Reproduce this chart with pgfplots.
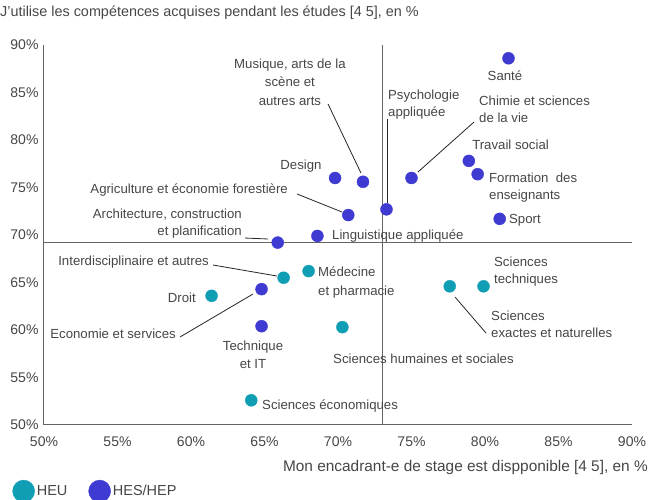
\documentclass[border=0pt]{standalone}
\usepackage{fontspec}
\setmainfont{Liberation Sans}
\usepackage{pgfplots}
\pgfplotsset{compat=1.18}
\definecolor{heu}{RGB}{16,158,180}
\definecolor{hes}{RGB}{62,58,210}
\definecolor{txt}{RGB}{70,70,70}
\definecolor{axc}{RGB}{100,100,100}
\begin{document}
\begin{tikzpicture}[
  lbl/.style={font=\fontsize{13.2}{17}\selectfont, text=txt, inner sep=0pt},
  leader/.style={draw=black!85, line width=0.8pt}]
\useasboundingbox (-44pt,-75pt) rectangle (604pt,425pt);
\begin{axis}[name=ax, at={(0pt,0pt)}, anchor=south west,
  scale only axis, width=588pt, height=380pt,
  xmin=50, xmax=90, ymin=50, ymax=90,
  xtick={50,55,...,90}, ytick={50,55,...,90},
  xticklabel={\pgfmathprintnumber[assume math mode=true]{\tick}\%},
  yticklabel={\pgfmathprintnumber[assume math mode=true]{\tick}\%},
  axis x line*=bottom, axis y line*=left,
  axis line style={-, draw=axc, line width=1pt},
  major tick length=0pt,
  tick label style={font=\fontsize{14}{16}\selectfont, text=txt},
  xticklabel style={yshift=-8pt},
  yticklabel style={xshift=-2pt},
  clip=false,
  legend style={at={(rel axis cs:-0.054,-0.174)}, anchor=west, draw=none, fill=none,
    legend columns=2, inner sep=0pt, font=\fontsize{14.5}{16}\selectfont, text=txt,
    /tikz/every even column/.append style={column sep=19pt}},
]
% reference lines
\addplot[draw=axc, line width=0.8pt, forget plot] coordinates {(73.0,50) (73.0,90)};
\addplot[draw=axc, line width=0.8pt, forget plot] coordinates {(50,69.2) (90,69.2)};
% HEU
\addplot[only marks, mark=*, mark size=6pt, color=heu, mark options={draw=heu, fill=heu},
  legend image code/.code={\fill[heu] (8pt,0pt) circle (11pt);}] coordinates {
  (66.3,65.5) (68.0,66.2) (61.4,63.6) (79.9,64.6) (77.6,64.6) (70.3,60.3) (64.1,52.6)
};
\addlegendentry{HEU}
% HES/HEP
\addplot[only marks, mark=*, mark size=6pt, color=hes, mark options={draw=hes, fill=hes},
  legend image code/.code={\fill[hes] (8pt,0pt) circle (11pt);}] coordinates {
  (81.6,88.6) (69.8,76.0) (71.7,75.6) (73.3,72.7) (75.0,76.0) (78.9,77.8) (79.5,76.4)
  (81.0,71.7) (70.7,72.1) (65.9,69.2) (68.6,69.9) (64.8,64.3) (64.8,60.4)
};
\addlegendentry{HES/HEP}
% labels
\node[lbl, align=center, font=\fontsize{13.2}{18.5}\selectfont] at (axis cs:66.73,86.1) {Musique, arts de la\\scène et\\autres arts};
\draw[leader] (axis cs:69.32,83.79) -- (axis cs:71.56,76.53);
\node[lbl, align=left, anchor=west] at (axis cs:73.40,83.75) {Psychologie\\appliquée};
\draw[leader] (axis cs:73.33,82.21) -- (axis cs:73.33,73.37);
\node[lbl, align=left, anchor=west] at (axis cs:79.59,83.2) {Chimie et sciences\\de la vie};
\draw[leader] (axis cs:79.25,81.89) -- (axis cs:75.44,76.63);
\node[lbl] at (axis cs:81.36,86.74) {Santé};
\node[lbl, anchor=west] at (axis cs:79.12,79.47) {Travail social};
\node[lbl, align=left, anchor=west] at (axis cs:80.27,74.95) {Formation\ \ des\\enseignants};
\node[lbl, anchor=west] at (axis cs:81.63,71.58) {Sport};
\node[lbl] at (axis cs:67.48,77.26) {Design};
\node[lbl, anchor=east] at (axis cs:66.60,74.74) {Agriculture et économie forestière};
\draw[leader] (axis cs:67.21,74.32) -- (axis cs:70.27,72.42);
\node[lbl, align=right, anchor=east] at (axis cs:63.47,71.16) {Architecture, construction\\et planification};
\draw[leader] (axis cs:63.67,69.68) -- (axis cs:65.24,69.58);
\node[lbl, anchor=west] at (axis cs:69.59,69.89) {Linguistique appliquée};
\node[lbl, anchor=east] at (axis cs:61.22,67.16) {Interdisciplinaire et autres};
\draw[leader] (axis cs:61.50,66.84) -- (axis cs:65.85,65.68);
\node[lbl, align=left, anchor=west, font=\fontsize{13.2}{18.5}\selectfont] at (axis cs:68.64,65.0) {Médecine\\et pharmacie};
\node[lbl, anchor=east] at (axis cs:60.34,63.37) {Droit};
\node[lbl, anchor=east] at (axis cs:58.98,59.58) {Economie et services};
\draw[leader] (axis cs:59.25,59.26) -- (axis cs:64.22,63.79);
\node[lbl, align=center, font=\fontsize{13.2}{18}\selectfont] at (axis cs:64.22,57.37) {Technique\\et IT};
\node[lbl, anchor=west] at (axis cs:64.83,52.0) {Sciences économiques};
\node[lbl, align=left, anchor=west] at (axis cs:80.61,66.2) {Sciences\\techniques};
\node[lbl, align=left, anchor=west] at (axis cs:80.41,60.6) {Sciences\\exactes et naturelles};
\draw[leader] (axis cs:77.96,63.47) -- (axis cs:80.07,59.68);
\node[lbl, anchor=west] at (axis cs:69.66,56.95) {Sciences humaines et sociales};
\end{axis}
\node[anchor=west, inner sep=0pt, font=\fontsize{14.4}{16}\selectfont, text=txt] at (-44pt,412pt) {J'utilise les compétences acquises pendant les études [4 5], en \%};
\node[anchor=east, inner sep=0pt, font=\fontsize{15.4}{17}\selectfont, text=txt] at (604pt,-43pt) {Mon encadrant-e de stage est dispponible [4 5], en \%};
\end{tikzpicture}
\end{document}
